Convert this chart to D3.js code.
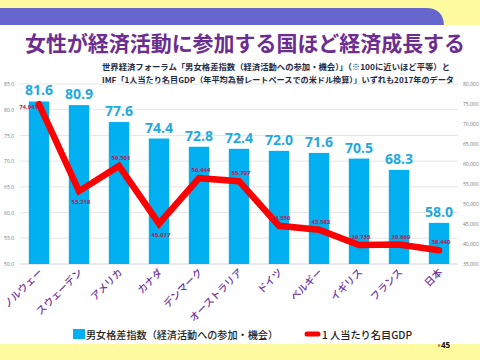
<!DOCTYPE html>
<html><head><meta charset="utf-8">
<script src="https://cdn.jsdelivr.net/npm/d3@7/dist/d3.min.js"></script>
<style>html,body{margin:0;padding:0;background:#fff;}svg{display:block;}</style>
</head><body>
<script>
const countries = ["ノルウェー","スウェーデン","アメリカ","カナダ","デンマーク","オーストラリア","ドイツ","ベルギー","イギリス","フランス","日本"];
const genderIndex = [81.6, 80.9, 77.6, 74.4, 72.8, 72.4, 72.0, 71.6, 70.5, 68.3, 58.0];
const gdp = [74941, 53218, 59501, 45077, 56444, 55707, 44550, 43582, 39735, 39869, 38440];
const gdpLabelPos = ["left","below","above","below","above","above","above","above","above","above","above"];
const leftTicks = [50, 55, 60, 65, 70, 75, 80, 85];
const rightTicks = [35000, 40000, 45000, 50000, 55000, 60000, 65000, 70000, 75000, 80000];
const titleText = "女性が経済活動に参加する国ほど経済成長する";
const sub1 = "世界経済フォーラム「男女格差指数（経済活動への参加・機会）」（※100に近いほど平等）と";
const sub2 = "IMF「1人当たり名目GDP（年平均為替レートベースでの米ドル換算）」いずれも2017年のデータ";
const legend1 = "男女格差指数（経済活動への参加・機会）";
const legend2 = "1 人当たり名目GDP";
const pageNo = "45";

const W = 480, H = 360;
const font = "'Noto Sans CJK JP', 'Noto Sans', sans-serif";
const svg = d3.select("body").append("svg").attr("width", W).attr("height", H);

// decorative bands
svg.append("rect").attr("x",0).attr("y",0).attr("width",W).attr("height",25).attr("fill","#fefaa0");
svg.append("path").attr("d","M0,8 L426,8 Q443,8 444,25 L0,25 Z").attr("fill","#6666cc");
svg.append("rect").attr("x",0).attr("y",344).attr("width",W).attr("height",16).attr("fill","#fefaa0");

// title
svg.append("text").attr("x",245).attr("y",51).attr("text-anchor","middle")
  .attr("font-family",font).attr("font-size",21).attr("font-weight",700)
  .attr("fill","#6b2d8f").attr("textLength",440).attr("lengthAdjust","spacingAndGlyphs").text(titleText);

svg.append("text").attr("x",102).attr("y",70).attr("font-family",font).attr("font-size",8).attr("font-weight",700)
  .attr("fill","#1f2a44").attr("textLength",348).attr("lengthAdjust","spacingAndGlyphs").text(sub1);
svg.append("text").attr("x",102).attr("y",83).attr("font-family",font).attr("font-size",8).attr("font-weight",700)
  .attr("fill","#1f2a44").attr("textLength",352).attr("lengthAdjust","spacingAndGlyphs").text(sub2);

// scales
const x = d3.scaleBand().domain(countries).range([19, 459]).paddingInner(0.49).paddingOuter(0.245);
const yL = d3.scaleLinear().domain([50, 85]).range([264, 84]);
const yR = d3.scaleLinear().domain([35000, 80000]).range([264, 84]);

// gridlines
svg.append("g").selectAll("line").data(leftTicks).join("line")
  .attr("x1",20).attr("x2",458).attr("y1",d=>yL(d)).attr("y2",d=>yL(d))
  .attr("stroke",d=>d===50?"#d0d4e0":"#e6e6e6").attr("stroke-width",1);

// left axis
const axL = svg.append("g").attr("transform","translate(14,0)")
  .call(d3.axisLeft(yL).tickValues(leftTicks).tickFormat(d3.format(".1f")).tickSize(0).tickPadding(0));
axL.select(".domain").remove();
axL.selectAll("text").attr("font-family","'Open Sans', sans-serif").attr("font-size",5).attr("fill","#777");

// right axis
const axR = svg.append("g").attr("transform","translate(463,0)")
  .call(d3.axisRight(yR).tickValues(rightTicks).tickFormat(d3.format(",")).tickSize(0).tickPadding(0));
axR.select(".domain").remove();
axR.selectAll("text").attr("font-family","'Open Sans', sans-serif").attr("font-size",5).attr("fill","#777");

// bars
svg.append("g").selectAll("rect").data(genderIndex).join("rect")
  .attr("x",(d,i)=>x(countries[i])).attr("width",x.bandwidth())
  .attr("y",d=>yL(d)).attr("height",d=>yL(50)-yL(d)).attr("fill","#00b0f0");

svg.append("g").selectAll("text").data(genderIndex).join("text")
  .attr("x",(d,i)=>x(countries[i])+x.bandwidth()/2).attr("y",d=>yL(d)-6)
  .attr("text-anchor","middle").attr("font-family","'Open Sans', sans-serif").attr("font-weight",700)
  .attr("font-size",14).attr("fill","#1fa9e3").text(d=>d.toFixed(1));

// line
const cx = i => x(countries[i]) + x.bandwidth()/2;
const line = d3.line().x((d,i)=>cx(i)).y(d=>yR(d));
svg.append("path").datum(gdp).attr("d",line).attr("fill","none")
  .attr("stroke","#ff0000").attr("stroke-width",6.5).attr("stroke-linejoin","miter").attr("stroke-linecap","round");

svg.append("g").selectAll("text").data(gdp).join("text")
  .attr("x",(d,i)=> gdpLabelPos[i]==="left" ? cx(i)-1 : cx(i)+2)
  .attr("y",(d,i)=> gdpLabelPos[i]==="left" ? yR(d)+5 : gdpLabelPos[i]==="below" ? yR(d)+13 : yR(d)-6)
  .attr("text-anchor",(d,i)=> gdpLabelPos[i]==="left" ? "end" : "middle")
  .attr("font-family","'Open Sans', sans-serif").attr("font-weight",700).attr("font-size",6)
  .attr("fill","#b3204a").text(d=>d3.format(",")(d));

// x labels
svg.append("g").selectAll("text").data(countries).join("text")
  .attr("transform",(d,i)=>`translate(${cx(i)+4},273) rotate(-45)`)
  .attr("text-anchor","end").attr("font-family",font).attr("font-size",10).attr("font-weight",500)
  .attr("fill","#7030a0").text(d=>d);

// legend
svg.append("rect").attr("x",73).attr("y",329).attr("width",12).attr("height",10).attr("fill","#00b0f0");
svg.append("text").attr("x",86).attr("y",338.5).attr("font-family",font).attr("font-size",10).attr("font-weight",500)
  .attr("fill","#222").attr("textLength",192).attr("lengthAdjust","spacingAndGlyphs").text(legend1);
svg.append("line").attr("x1",307).attr("x2",318).attr("y1",334).attr("y2",334)
  .attr("stroke","#ff0000").attr("stroke-width",5).attr("stroke-linecap","round");
svg.append("text").attr("x",322).attr("y",338.5).attr("font-family",font).attr("font-size",10).attr("font-weight",500)
  .attr("fill","#222").attr("textLength",90).attr("lengthAdjust","spacingAndGlyphs").text(legend2);

// page number
svg.append("circle").attr("cx",439).attr("cy",345.5).attr("r",1.2).attr("fill","#c07050");
svg.append("text").attr("x",441).attr("y",348).attr("font-family","'Open Sans', sans-serif").attr("font-size",8)
  .attr("font-weight",700).attr("fill","#111").text(pageNo);
</script>
</body></html>
